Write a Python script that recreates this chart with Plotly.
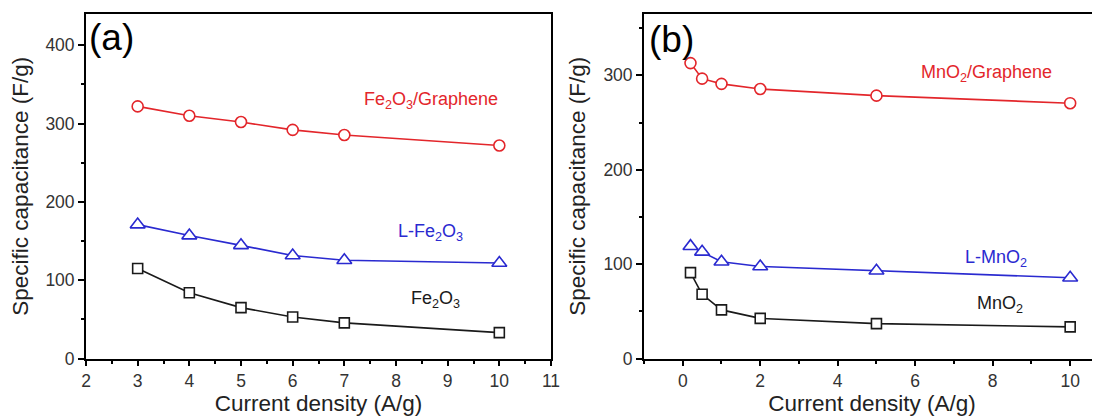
import plotly.graph_objects as go

# ---- Panel (a) data ----
xa = [3, 4, 5, 6, 7, 10]
fe2o3_graphene = [322, 310, 302, 292, 285.5, 272]
l_fe2o3 = [171, 157, 144.5, 131.5, 125.5, 122]
fe2o3 = [115, 84, 65, 53, 45.5, 33]

# ---- Panel (b) data ----
xb = [0.2, 0.5, 1, 2, 5, 10]
mno2_graphene = [313, 296.5, 291, 285.5, 278.5, 270.5]
l_mno2 = [119, 113, 102.5, 97.5, 93, 85.5]
mno2 = [91, 68, 51.5, 42.5, 37, 33.5]

RED = "#e3262b"
BLUE = "#2a2ad0"
BLACK = "#1a1a1a"
FONT = "Liberation Sans, Arial, sans-serif"

# the page body adds an 8px offset, so the figure is 8px smaller
OFF = 8
W, H = 1100 - OFF, 416 - OFF

def px(x):
    return (x - OFF) / W

def py(y):
    return 1 - (y - OFF) / H

fig = go.Figure()

def add_series(x, y, color, symbol, size, xaxis, yaxis):
    fig.add_trace(go.Scatter(
        x=x, y=y, mode="lines+markers",
        line=dict(color=color, width=1.6),
        marker=dict(symbol=symbol, size=size, color="white",
                    line=dict(color=color, width=1.6)),
        xaxis=xaxis, yaxis=yaxis, showlegend=False,
    ))

add_series(xa, fe2o3_graphene, RED, "circle", 11, "x", "y")
add_series(xa, l_fe2o3, BLUE, "triangle-up", 13, "x", "y")
add_series(xa, fe2o3, BLACK, "square", 10, "x", "y")

add_series(xb, mno2_graphene, RED, "circle", 11, "x2", "y2")
add_series(xb, l_mno2, BLUE, "triangle-up", 13, "x2", "y2")
add_series(xb, mno2, BLACK, "square", 10, "x2", "y2")

tickfont = dict(family=FONT, size=17.5, color="#333333")
titlefont = dict(family=FONT, size=22.5, color="#222222")

ydom = [py(358.5), py(14)]

common_axis = dict(
    showline=True, linecolor="black", linewidth=1.8,
    ticks="outside", ticklen=6, tickwidth=1.5, tickcolor="black",
    showgrid=False, zeroline=False, tickfont=tickfont,
    automargin=False,
)

minor_tk = dict(ticks="outside", ticklen=3.5, tickwidth=1.5, tickcolor="black")

fig.update_layout(
    width=W, height=H,
    margin=dict(l=0, r=0, t=0, b=0, pad=0),
    paper_bgcolor="white", plot_bgcolor="white",
    xaxis=dict(
        domain=[px(86), px(551)], range=[2, 11], dtick=1, tick0=0,
        mirror=True, anchor="y",
        minor=dict(dtick=0.5, **minor_tk),
        title=dict(text="Current density (A/g)", font=titlefont, standoff=8),
        **common_axis,
    ),
    yaxis=dict(
        domain=ydom, range=[0, 440], dtick=100, tick0=0,
        mirror=True, anchor="x",
        minor=dict(dtick=50, **minor_tk),
        title=dict(text="Specific capacitance (F/g)", font=titlefont, standoff=12),
        **common_axis,
    ),
    xaxis2=dict(
        domain=[px(644), 1.0], range=[-1, 10.77], dtick=2, tick0=0,
        mirror=True, anchor="y2",
        minor=dict(dtick=1, **minor_tk),
        title=dict(text="Current density (A/g)", font=titlefont, standoff=8),
        **common_axis,
    ),
    yaxis2=dict(
        domain=ydom, range=[0, 365], dtick=100, tick0=0,
        mirror=False, anchor="x2",
        minor=dict(dtick=50, **minor_tk),
        title=dict(text="Specific capacitance (F/g)", font=titlefont, standoff=12),
        **common_axis,
    ),
)

def label(text, x, y, color, size=18):
    fig.add_annotation(
        text=text, x=px(x), y=py(y), xref="paper", yref="paper",
        showarrow=False, xanchor="center", yanchor="middle",
        font=dict(family=FONT, size=size, color=color),
    )

label("(a)", 111, 38, "black", size=37)
label("(b)", 671, 40, "black", size=37)

label("Fe<sub>2</sub>O<sub>3</sub>/Graphene", 431, 101, RED)
label("L-Fe<sub>2</sub>O<sub>3</sub>", 430, 232, BLUE)
label("Fe<sub>2</sub>O<sub>3</sub>", 435, 299, BLACK)

label("MnO<sub>2</sub>/Graphene", 986, 73, RED)
label("L-MnO<sub>2</sub>", 996, 258, BLUE)
label("MnO<sub>2</sub>", 1000, 304, BLACK)

fig.write_html("out.html")
